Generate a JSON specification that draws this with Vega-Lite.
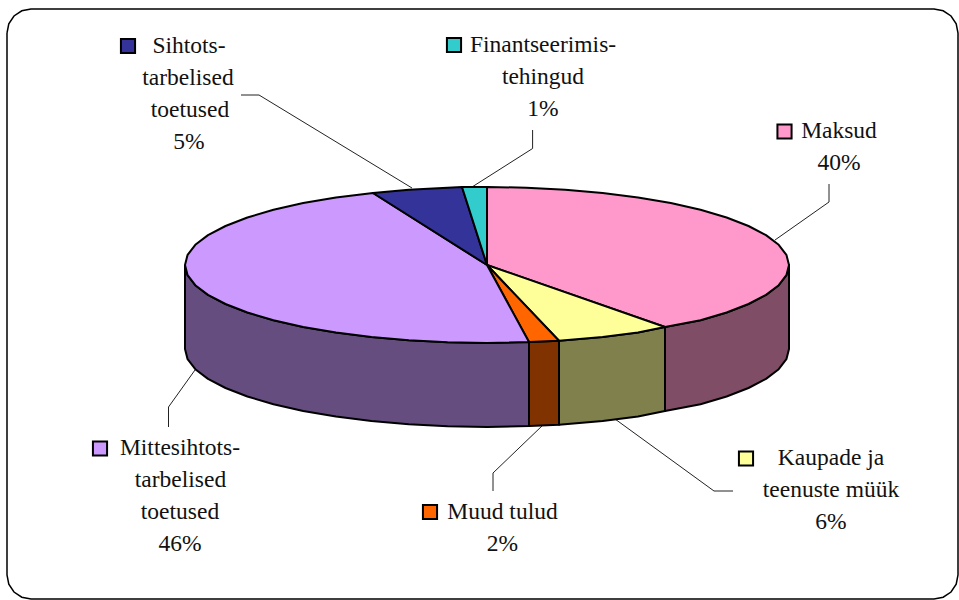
{"$schema":"https://vega.github.io/schema/vega-lite/v6.json","width":959,"height":600,"padding":0,"autosize":{"type":"none"},"background":"white","view":{"stroke":null},
"datasets":{
"frame":[{"n":1,"x":7,"y":33},{"n":2,"x":8.8,"y":23.8},{"n":3,"x":14,"y":16},{"n":4,"x":21.8,"y":10.8},{"n":5,"x":31,"y":9},{"n":6,"x":934,"y":9},{"n":7,"x":943.2,"y":10.8},{"n":8,"x":951,"y":16},{"n":9,"x":956.2,"y":23.8},{"n":10,"x":958,"y":33},{"n":11,"x":958,"y":575},{"n":12,"x":956.2,"y":584.2},{"n":13,"x":951,"y":592},{"n":14,"x":943.2,"y":597.2},{"n":15,"x":934,"y":599},{"n":16,"x":31,"y":599},{"n":17,"x":21.8,"y":597.2},{"n":18,"x":14,"y":592},{"n":19,"x":8.8,"y":584.2},{"n":20,"x":7,"y":575},{"n":21,"x":7,"y":33}],
"sides":[
{"part":"Maksud külg","n":1,"x":665,"y":327},{"part":"Maksud külg","n":2,"x":700.5,"y":320.2},{"part":"Maksud külg","n":3,"x":726.6,"y":312.5},{"part":"Maksud külg","n":4,"x":748.5,"y":304},{"part":"Maksud külg","n":5,"x":766,"y":294.9},{"part":"Maksud külg","n":6,"x":778.7,"y":285.2},{"part":"Maksud külg","n":7,"x":786.4,"y":275.2},{"part":"Maksud külg","n":8,"x":789,"y":265},{"part":"Maksud külg","n":9,"x":789,"y":349},{"part":"Maksud külg","n":10,"x":786.4,"y":359.2},{"part":"Maksud külg","n":11,"x":778.7,"y":369.2},{"part":"Maksud külg","n":12,"x":766,"y":378.9},{"part":"Maksud külg","n":13,"x":748.5,"y":388},{"part":"Maksud külg","n":14,"x":726.6,"y":396.5},{"part":"Maksud külg","n":15,"x":700.5,"y":404.2},{"part":"Maksud külg","n":16,"x":665,"y":411},{"part":"Maksud külg","n":17,"x":665,"y":327},
{"part":"Kaubad külg","n":1,"x":559,"y":340.7},{"part":"Kaubad külg","n":2,"x":602.6,"y":337.1},{"part":"Kaubad külg","n":3,"x":638,"y":332.5},{"part":"Kaubad külg","n":4,"x":665,"y":327},{"part":"Kaubad külg","n":5,"x":665,"y":411},{"part":"Kaubad külg","n":6,"x":638,"y":416.5},{"part":"Kaubad külg","n":7,"x":602.6,"y":421.1},{"part":"Kaubad külg","n":8,"x":559,"y":424.7},{"part":"Kaubad külg","n":9,"x":559,"y":340.7},
{"part":"Muud külg","n":1,"x":529,"y":342},{"part":"Muud külg","n":2,"x":559,"y":340.7},{"part":"Muud külg","n":3,"x":559,"y":424.7},{"part":"Muud külg","n":4,"x":529,"y":426},{"part":"Muud külg","n":5,"x":529,"y":342},
{"part":"Mittesihtots külg","n":1,"x":185,"y":265},{"part":"Mittesihtots külg","n":2,"x":187.6,"y":275.2},{"part":"Mittesihtots külg","n":3,"x":195.3,"y":285.2},{"part":"Mittesihtots külg","n":4,"x":208,"y":294.9},{"part":"Mittesihtots külg","n":5,"x":225.5,"y":304},{"part":"Mittesihtots külg","n":6,"x":247.4,"y":312.5},{"part":"Mittesihtots külg","n":7,"x":273.5,"y":320.2},{"part":"Mittesihtots külg","n":8,"x":303.2,"y":326.9},{"part":"Mittesihtots külg","n":9,"x":336,"y":332.5},{"part":"Mittesihtots külg","n":10,"x":371.4,"y":337.1},{"part":"Mittesihtots külg","n":11,"x":408.8,"y":340.3},{"part":"Mittesihtots külg","n":12,"x":447.6,"y":342.3},{"part":"Mittesihtots külg","n":13,"x":487,"y":343},{"part":"Mittesihtots külg","n":14,"x":529,"y":342},{"part":"Mittesihtots külg","n":15,"x":529,"y":426},{"part":"Mittesihtots külg","n":16,"x":487,"y":427},{"part":"Mittesihtots külg","n":17,"x":447.6,"y":426.3},{"part":"Mittesihtots külg","n":18,"x":408.8,"y":424.3},{"part":"Mittesihtots külg","n":19,"x":371.4,"y":421.1},{"part":"Mittesihtots külg","n":20,"x":336,"y":416.5},{"part":"Mittesihtots külg","n":21,"x":303.2,"y":410.9},{"part":"Mittesihtots külg","n":22,"x":273.5,"y":404.2},{"part":"Mittesihtots külg","n":23,"x":247.4,"y":396.5},{"part":"Mittesihtots külg","n":24,"x":225.5,"y":388},{"part":"Mittesihtots külg","n":25,"x":208,"y":378.9},{"part":"Mittesihtots külg","n":26,"x":195.3,"y":369.2},{"part":"Mittesihtots külg","n":27,"x":187.6,"y":359.2},{"part":"Mittesihtots külg","n":28,"x":185,"y":349},{"part":"Mittesihtots külg","n":29,"x":185,"y":265}
],
"tops":[
{"part":"Maksud","n":1,"x":487,"y":265},{"part":"Maksud","n":2,"x":487,"y":187},{"part":"Maksud","n":3,"x":526.4,"y":187.7},{"part":"Maksud","n":4,"x":565.2,"y":189.7},{"part":"Maksud","n":5,"x":602.6,"y":192.9},{"part":"Maksud","n":6,"x":638,"y":197.5},{"part":"Maksud","n":7,"x":670.8,"y":203.1},{"part":"Maksud","n":8,"x":700.5,"y":209.8},{"part":"Maksud","n":9,"x":726.6,"y":217.5},{"part":"Maksud","n":10,"x":748.5,"y":226},{"part":"Maksud","n":11,"x":766,"y":235.1},{"part":"Maksud","n":12,"x":778.7,"y":244.8},{"part":"Maksud","n":13,"x":786.4,"y":254.8},{"part":"Maksud","n":14,"x":789,"y":265},{"part":"Maksud","n":15,"x":786.4,"y":275.2},{"part":"Maksud","n":16,"x":778.7,"y":285.2},{"part":"Maksud","n":17,"x":766,"y":294.9},{"part":"Maksud","n":18,"x":748.5,"y":304},{"part":"Maksud","n":19,"x":726.6,"y":312.5},{"part":"Maksud","n":20,"x":700.5,"y":320.2},{"part":"Maksud","n":21,"x":665,"y":327},{"part":"Maksud","n":22,"x":487,"y":265},
{"part":"Kaubad","n":1,"x":487,"y":265},{"part":"Kaubad","n":2,"x":665,"y":327},{"part":"Kaubad","n":3,"x":638,"y":332.5},{"part":"Kaubad","n":4,"x":602.6,"y":337.1},{"part":"Kaubad","n":5,"x":559,"y":340.7},{"part":"Kaubad","n":6,"x":487,"y":265},
{"part":"Muud","n":1,"x":487,"y":265},{"part":"Muud","n":2,"x":559,"y":340.7},{"part":"Muud","n":3,"x":529,"y":342},{"part":"Muud","n":4,"x":487,"y":265},
{"part":"Mittesihtots","n":1,"x":487,"y":265},{"part":"Mittesihtots","n":2,"x":529,"y":342},{"part":"Mittesihtots","n":3,"x":487,"y":343},{"part":"Mittesihtots","n":4,"x":447.6,"y":342.3},{"part":"Mittesihtots","n":5,"x":408.8,"y":340.3},{"part":"Mittesihtots","n":6,"x":371.4,"y":337.1},{"part":"Mittesihtots","n":7,"x":336,"y":332.5},{"part":"Mittesihtots","n":8,"x":303.2,"y":326.9},{"part":"Mittesihtots","n":9,"x":273.5,"y":320.2},{"part":"Mittesihtots","n":10,"x":247.4,"y":312.5},{"part":"Mittesihtots","n":11,"x":225.5,"y":304},{"part":"Mittesihtots","n":12,"x":208,"y":294.9},{"part":"Mittesihtots","n":13,"x":195.3,"y":285.2},{"part":"Mittesihtots","n":14,"x":187.6,"y":275.2},{"part":"Mittesihtots","n":15,"x":185,"y":265},{"part":"Mittesihtots","n":16,"x":187.6,"y":254.8},{"part":"Mittesihtots","n":17,"x":195.3,"y":244.8},{"part":"Mittesihtots","n":18,"x":208,"y":235.1},{"part":"Mittesihtots","n":19,"x":225.5,"y":226},{"part":"Mittesihtots","n":20,"x":247.4,"y":217.5},{"part":"Mittesihtots","n":21,"x":273.5,"y":209.8},{"part":"Mittesihtots","n":22,"x":303.2,"y":203.1},{"part":"Mittesihtots","n":23,"x":336,"y":197.5},{"part":"Mittesihtots","n":24,"x":373,"y":193},{"part":"Mittesihtots","n":25,"x":487,"y":265},
{"part":"Sihtots","n":1,"x":487,"y":265},{"part":"Sihtots","n":2,"x":373,"y":193},{"part":"Sihtots","n":3,"x":408.8,"y":189.7},{"part":"Sihtots","n":4,"x":447.6,"y":187.7},{"part":"Sihtots","n":5,"x":462,"y":187},{"part":"Sihtots","n":6,"x":487,"y":265},
{"part":"Finants","n":1,"x":487,"y":265},{"part":"Finants","n":2,"x":462,"y":187},{"part":"Finants","n":3,"x":487,"y":187},{"part":"Finants","n":4,"x":487,"y":265}
],
"leaders":[
{"part":"Sihtots","n":1,"x":241,"y":95},{"part":"Sihtots","n":2,"x":259,"y":95},{"part":"Sihtots","n":3,"x":412,"y":188},
{"part":"Finants","n":1,"x":532.6,"y":130},{"part":"Finants","n":2,"x":532.6,"y":148.5},{"part":"Finants","n":3,"x":472,"y":187},
{"part":"Maksud","n":1,"x":829,"y":184},{"part":"Maksud","n":2,"x":829,"y":202},{"part":"Maksud","n":3,"x":775,"y":240},
{"part":"Kaubad","n":1,"x":615,"y":419},{"part":"Kaubad","n":2,"x":714,"y":491},{"part":"Kaubad","n":3,"x":733,"y":491},
{"part":"Muud","n":1,"x":543,"y":425},{"part":"Muud","n":2,"x":493,"y":473},{"part":"Muud","n":3,"x":493,"y":491},
{"part":"Mittesihtots","n":1,"x":195,"y":370},{"part":"Mittesihtots","n":2,"x":168.5,"y":407},{"part":"Mittesihtots","n":3,"x":168.5,"y":427}
],
"keys":[{"part":"Sihtots","x":128,"y":46},{"part":"Finants","x":454,"y":45},{"part":"Maksud","x":784.5,"y":131.5},{"part":"Kaubad","x":746,"y":458.5},{"part":"Muud","x":430,"y":512},{"part":"Mittesihtots","x":100,"y":448.5}],
"labels":[
{"t":"Sihtots-","x":189,"y":53},{"t":"tarbelised","x":188,"y":85},{"t":"toetused","x":190,"y":117},{"t":"5%","x":189,"y":149},
{"t":"Finantseerimis-","x":543,"y":52},{"t":"tehingud","x":543,"y":84},{"t":"1%","x":543,"y":116},
{"t":"Maksud","x":839,"y":138},{"t":"40%","x":839,"y":170},
{"t":"Kaupade ja","x":831,"y":465},{"t":"teenuste müük","x":831,"y":497},{"t":"6%","x":831,"y":529},
{"t":"Muud tulud","x":502.5,"y":519},{"t":"2%","x":502.5,"y":551},
{"t":"Mittesihtots-","x":180,"y":455},{"t":"tarbelised","x":180.5,"y":487},{"t":"toetused","x":180,"y":519},{"t":"46%","x":180,"y":551}
]},
"encoding":{
"x":{"field":"x","type":"quantitative","scale":{"domain":[0,959],"nice":false,"zero":false},"axis":null},
"y":{"field":"y","type":"quantitative","scale":{"domain":[600,0],"nice":false,"zero":false},"axis":null}},
"layer":[
{"data":{"name":"frame"},"mark":{"type":"line","stroke":"black","strokeWidth":1.5},"encoding":{"order":{"field":"n","type":"quantitative"}}},
{"data":{"name":"leaders"},"mark":{"type":"line","stroke":"#222222","strokeWidth":1},"encoding":{"detail":{"field":"part"},"order":{"field":"n","type":"quantitative"}}},
{"data":{"name":"sides"},"mark":{"type":"line","stroke":"black","strokeWidth":2,"strokeJoin":"round"},"encoding":{"order":{"field":"n","type":"quantitative"},"fill":{"field":"part","type":"nominal","legend":null,"scale":{"domain":["Maksud külg","Kaubad külg","Muud külg","Mittesihtots külg"],"range":["#804D66","#80804D","#803300","#664D80"]}}}},
{"data":{"name":"tops"},"mark":{"type":"line","stroke":"black","strokeWidth":2,"strokeJoin":"round"},"encoding":{"order":{"field":"n","type":"quantitative"},"fill":{"field":"part","type":"nominal","legend":null,"scale":{"domain":["Maksud","Kaubad","Muud","Mittesihtots","Sihtots","Finants"],"range":["#FF99CC","#FFFF99","#FF6600","#CC99FF","#333399","#33CCCC"]}}}},
{"data":{"name":"keys"},"mark":{"type":"point","shape":"square","filled":true,"size":200,"stroke":"black","strokeWidth":2,"opacity":1},"encoding":{"fill":{"field":"part","type":"nominal","legend":null,"scale":{"domain":["Maksud","Kaubad","Muud","Mittesihtots","Sihtots","Finants"],"range":["#FF99CC","#FFFF99","#FF6600","#CC99FF","#333399","#33CCCC"]}}}},
{"data":{"name":"labels"},"mark":{"type":"text","font":"Liberation Serif","fontSize":23.5,"align":"center","baseline":"alphabetic","color":"#111111"},"encoding":{"text":{"field":"t","type":"nominal"}}}
],
"resolve":{"scale":{"fill":"independent"}}
}
